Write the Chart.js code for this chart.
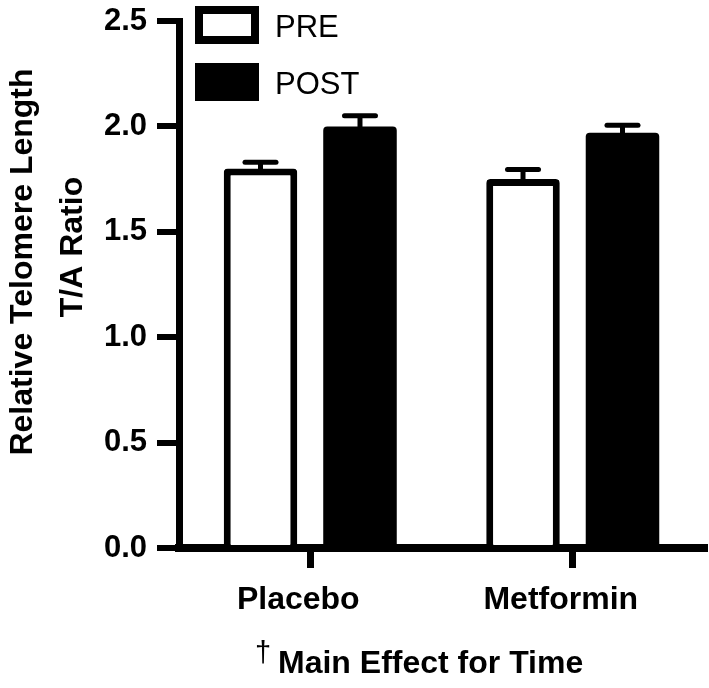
<!DOCTYPE html>
<html>
<head>
<meta charset="utf-8">
<script src="https://cdn.jsdelivr.net/npm/chart.js@4/dist/chart.umd.min.js"></script>
<style>
  body { margin: 0; background: #fff; }
  #wrap { width: 709px; height: 688px; }
</style>
</head>
<body>
<div id="wrap"><canvas id="telomereChart" width="709" height="688"></canvas></div>
<script>
// data
const categories = ['Placebo', 'Metformin'];
const preValues = [1.80, 1.75];
const postValues = [2.00, 1.97];
const preErrors = [0.03, 0.045];
const postErrors = [0.05, 0.035];
const yTicks = [0, 0.5, 1.0, 1.5, 2.0, 2.5];

const fontFamily = '"Liberation Sans", Arial, Helvetica, sans-serif';

// error bars on top of each bar
const errorBars = {
    id: 'errorBars',
    afterDatasetsDraw(chart) {
        const ctx = chart.ctx;
        const yScale = chart.scales.y;
        chart.data.datasets.forEach((ds, i) => {
            const meta = chart.getDatasetMeta(i);
            meta.data.forEach((bar, j) => {
                const top = yScale.getPixelForValue(ds.data[j] + ds.errors[j]);
                ctx.save();
                ctx.strokeStyle = '#000';
                ctx.lineWidth = 5;
                ctx.lineCap = 'butt';
                ctx.beginPath();
                ctx.moveTo(bar.x, bar.y + 4);
                ctx.lineTo(bar.x, top);
                ctx.stroke();
                ctx.lineCap = 'round';
                ctx.beginPath();
                ctx.moveTo(bar.x - 15.5, top);
                ctx.lineTo(bar.x + 15.5, top);
                ctx.stroke();
                ctx.restore();
            });
        });
    }
};

// legend boxes + axis titles in the GraphPad layout
const extras = {
    id: 'extras',
    afterDraw(chart) {
        const ctx = chart.ctx;
        ctx.save();
        // legend
        chart.data.datasets.forEach((ds, i) => {
            const x = 195, y = 6 + i * 57, w = 64, h = 38, b = 8;
            ctx.fillStyle = '#000';
            ctx.fillRect(x, y, w, h);
            ctx.fillStyle = ds.backgroundColor;
            ctx.fillRect(x + b, y + b, w - 2 * b, h - 2 * b);
            ctx.fillStyle = '#000';
            ctx.font = '31px ' + fontFamily;
            ctx.textAlign = 'left';
            ctx.textBaseline = 'alphabetic';
            ctx.fillText(ds.label, 275, y + 31);
        });

        // y title, two lines
        ctx.font = 'bold 32px ' + fontFamily;
        ctx.textAlign = 'center';
        ctx.textBaseline = 'alphabetic';
        ctx.save();
        ctx.translate(32, 262);
        ctx.rotate(-Math.PI / 2);
        ctx.fillText('Relative Telomere Length', 0, 0);
        ctx.restore();
        ctx.save();
        ctx.translate(82, 247);
        ctx.rotate(-Math.PI / 2);
        ctx.fillText('T/A Ratio', 0, 0);
        ctx.restore();

        // x title with dagger
        ctx.textAlign = 'left';
        ctx.font = '29px ' + fontFamily;
        ctx.fillText('\u2020', 255, 662);
        ctx.font = 'bold 32px ' + fontFamily;
        ctx.fillText('Main Effect for Time', 278, 673);
        ctx.restore();
    }
};

const ctx = document.getElementById('telomereChart').getContext('2d');
const telomereChart = new Chart(ctx, {
    type: 'bar',
    data: {
        labels: categories,
        datasets: [{
            label: 'PRE',
            data: preValues,
            errors: preErrors,
            backgroundColor: '#ffffff',
            borderColor: '#000000',
            borderWidth: 7,
            borderRadius: 4
        }, {
            label: 'POST',
            data: postValues,
            errors: postErrors,
            backgroundColor: '#000000',
            borderWidth: 0,
            borderRadius: 4
        }]
    },
    options: {
        responsive: false,
        animation: false,
        categoryPercentage: 0.758,
        barPercentage: 0.739,
        layout: {
            padding: { top: 21, right: 5, left: 0, bottom: 0 }
        },
        plugins: {
            legend: { display: false },
            tooltip: { enabled: false }
        },
        scales: {
            x: {
                afterFit(scale) { scale.height = 140; },
                grid: {
                    offset: false,
                    drawOnChartArea: false,
                    tickLength: 20,
                    lineWidth: 7,
                    color: '#000'
                },
                border: { display: true, width: 8, color: '#000' },
                ticks: {
                    color: '#000',
                    padding: 13,
                    labelOffset: -12,
                    font: { family: fontFamily, size: 32, weight: 'bold' }
                }
            },
            y: {
                min: 0,
                max: 2.5,
                afterFit(scale) { scale.width = 179; },
                afterBuildTicks(scale) {
                    scale.ticks = yTicks.map(v => ({ value: v }));
                },
                grid: {
                    drawOnChartArea: false,
                    tickLength: 22,
                    lineWidth: 6,
                    color: '#000'
                },
                border: { display: true, width: 7, color: '#000' },
                ticks: {
                    color: '#000',
                    padding: 10,
                    callback: v => Number(v).toFixed(1),
                    font: { family: fontFamily, size: 31, weight: 'bold', lineHeight: 0.6 }
                }
            }
        }
    },
    plugins: [errorBars, extras]
});
</script>
</body>
</html>
